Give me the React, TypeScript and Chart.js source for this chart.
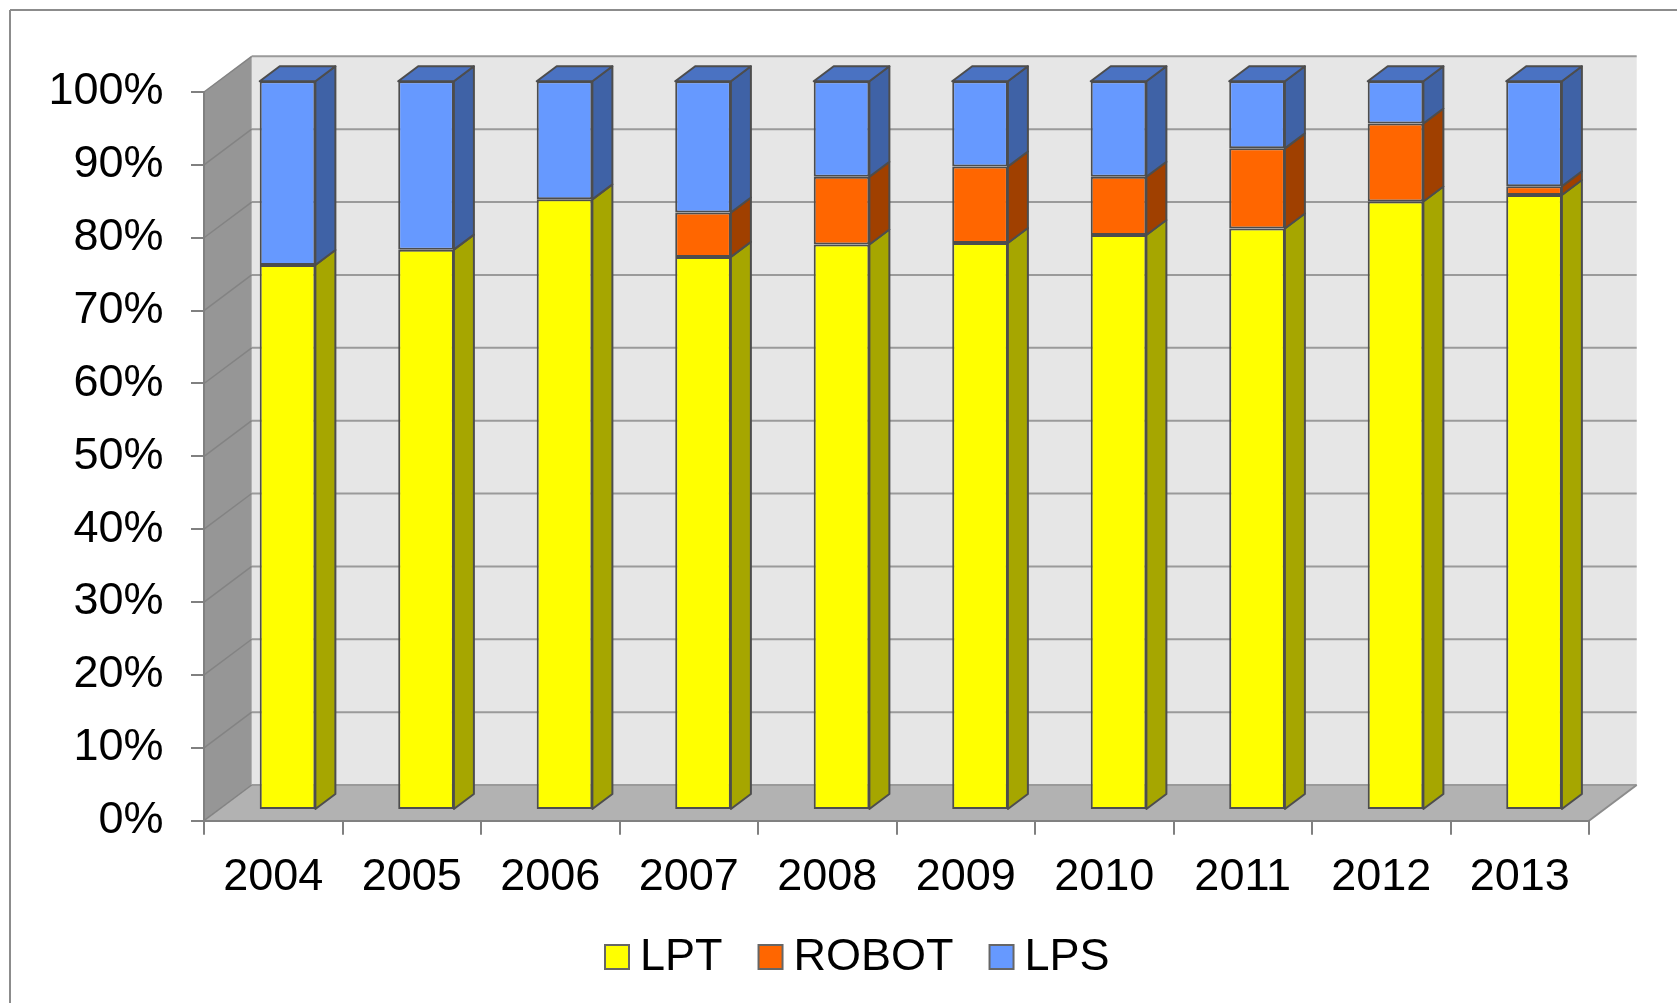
import React, { useEffect, useRef } from 'react';
import { Chart, registerables } from 'chart.js';

Chart.register(...registerables);

// ---------- data ----------
const categories = ['2004', '2005', '2006', '2007', '2008', '2009', '2010', '2011', '2012', '2013'];
const seriesNames = ['LPT', 'ROBOT', 'LPS'];
const lptValues = [74.8, 76.9, 83.8, 75.9, 77.6, 77.8, 78.9, 79.8, 83.5, 84.4];
const robotValues = [0, 0, 0, 6.1, 9.3, 10.5, 8.0, 11.0, 10.7, 1.2];
const lpsValues = [25.2, 23.1, 16.2, 18.0, 13.1, 11.7, 13.1, 9.2, 5.8, 14.4];
const yMin = 0;
const yMax = 100;
const yStep = 10;

// ---------- styles ----------
const FONT = '"Liberation Sans", Arial, Helvetica, sans-serif';
const FONT_SIZE = 45;
const frontColors = ['#FFFF00', '#FF6600', '#6699FF'];
const sideColors = ['#A6A600', '#A04000', '#3F62A6'];
const topColors = ['#CCCC00', '#CC5200', '#4A72C2'];
const EDGE = '#4D4D4D';

const BAR_OFFSET = { dx: 14.3, dy: -10.7 }; // front plane -> bar front face
const BAR_DEPTH = { dx: 20, dy: -15 };
const WALL_DEPTH = { dx: 47.7, dy: -35.7 };

function poly(ctx: CanvasRenderingContext2D, pts: number[][], fill: string, stroke?: string, lw = 2) {
  ctx.beginPath();
  ctx.moveTo(pts[0][0], pts[0][1]);
  for (let i = 1; i < pts.length; i++) ctx.lineTo(pts[i][0], pts[i][1]);
  ctx.closePath();
  ctx.fillStyle = fill;
  ctx.fill();
  if (stroke) {
    ctx.strokeStyle = stroke;
    ctx.lineWidth = lw;
    ctx.lineJoin = 'round';
    ctx.stroke();
  }
}

function line(ctx: CanvasRenderingContext2D, x1: number, y1: number, x2: number, y2: number, color: string, lw: number) {
  ctx.beginPath();
  ctx.moveTo(x1, y1);
  ctx.lineTo(x2, y2);
  ctx.strokeStyle = color;
  ctx.lineWidth = lw;
  ctx.stroke();
}

const wallsPlugin = {
  id: 'walls3d',
  beforeDraw(chart: any) {
    const ctx: CanvasRenderingContext2D = chart.ctx;
    const a = chart.chartArea;
    const y = chart.scales.y;
    const L = a.left, R = a.right;
    const T = y.getPixelForValue(yMax), B = y.getPixelForValue(yMin);
    const { dx, dy } = WALL_DEPTH;
    ctx.save();
    // outer frame
    line(ctx, 10, 10, 10, chart.height + 5, '#8C8C8C', 2);
    line(ctx, 10, 10, chart.width + 5, 10, '#8C8C8C', 2);
    // back wall
    ctx.fillStyle = '#E6E6E6';
    ctx.fillRect(L + dx, T + dy, R - L, B - T);
    // side wall
    poly(ctx, [[L, T], [L + dx, T + dy], [L + dx, B + dy], [L, B]], '#969696');
    // floor
    poly(ctx, [[L, B], [L + dx, B + dy], [R + dx, B + dy], [R, B]], '#B2B2B2');
    // gridlines
    for (const t of y.ticks) {
      const py = y.getPixelForValue(t.value);
      line(ctx, L + dx, py + dy, R + dx, py + dy, '#9A9A9A', 2);
      line(ctx, L, py, L + dx, py + dy, '#838383', 1.5);
    }
    // floor right edge
    line(ctx, R, B, R + dx, B + dy, '#8C8C8C', 2);
    ctx.restore();
  },
  beforeDatasetsDraw(chart: any) {
    const ctx: CanvasRenderingContext2D = chart.ctx;
    const n = chart.data.labels.length;
    const nd = chart.data.datasets.length;
    ctx.save();
    for (let j = 0; j < n; j++) {
      let topDs = -1;
      for (let d = 0; d < nd; d++) {
        const meta = chart.getDatasetMeta(d);
        const el = meta.data[j];
        if (!el) continue;
        const p = el.getProps(['x', 'y', 'base', 'width'], true);
        const h = Math.abs(p.base - p.y);
        if (h < 0.5) continue;
        topDs = d;
        const right = p.x + p.width / 2 + BAR_OFFSET.dx;
        const top = Math.min(p.y, p.base) + BAR_OFFSET.dy;
        const bottom = Math.max(p.y, p.base) + BAR_OFFSET.dy;
        poly(ctx, [
          [right, top],
          [right + BAR_DEPTH.dx, top + BAR_DEPTH.dy],
          [right + BAR_DEPTH.dx, bottom + BAR_DEPTH.dy],
          [right, bottom],
        ], sideColors[d], EDGE, 2);
      }
      if (topDs >= 0) {
        const el = chart.getDatasetMeta(topDs).data[j];
        const p = el.getProps(['x', 'y', 'base', 'width'], true);
        const left = p.x - p.width / 2 + BAR_OFFSET.dx;
        const right = p.x + p.width / 2 + BAR_OFFSET.dx;
        const top = Math.min(p.y, p.base) + BAR_OFFSET.dy;
        poly(ctx, [
          [left, top],
          [left + BAR_DEPTH.dx, top + BAR_DEPTH.dy],
          [right + BAR_DEPTH.dx, top + BAR_DEPTH.dy],
          [right, top],
        ], topColors[topDs], EDGE, 2);
      }
    }
    ctx.restore();
    ctx.save();
    ctx.translate(BAR_OFFSET.dx, BAR_OFFSET.dy);
  },
  afterDatasetsDraw(chart: any) {
    chart.ctx.restore();
  },
  afterDraw(chart: any) {
    const ctx: CanvasRenderingContext2D = chart.ctx;
    ctx.save();
    ctx.font = FONT_SIZE + 'px ' + FONT;
    ctx.textBaseline = 'middle';
    ctx.textAlign = 'left';
    const cy = 957;
    let x = 605;
    chart.data.datasets.forEach((ds: any, i: number) => {
      ctx.fillStyle = frontColors[i];
      ctx.fillRect(x, cy - 12, 24, 24);
      ctx.strokeStyle = '#666666';
      ctx.lineWidth = 2;
      ctx.strokeRect(x, cy - 12, 24, 24);
      x += 24 + 11;
      ctx.fillStyle = '#000000';
      ctx.fillText(ds.label, x, cy + 1);
      x += ctx.measureText(ds.label).width + 36;
    });
    ctx.restore();
  },
};

export default function App() {
  const ref = useRef<HTMLCanvasElement | null>(null);
  useEffect(() => {
    if (!ref.current) return;
    const valueSets = [lptValues, robotValues, lpsValues];
    const chart = new Chart(ref.current, {
      type: 'bar',
      data: {
        labels: categories,
        datasets: seriesNames.map((name, i) => ({
          label: name,
          data: valueSets[i],
          backgroundColor: frontColors[i],
          borderColor: EDGE,
          borderWidth: 2,
          borderSkipped: false,
          categoryPercentage: 1,
          barPercentage: 0.402,
          clip: false as any,
        })),
      },
      options: {
        responsive: false,
        animation: false,
        layout: { padding: { top: 92, right: 88, bottom: 0, left: 0 } },
        plugins: { legend: { display: false }, tooltip: { enabled: false } },
        scales: {
          x: {
            stacked: true,
            grid: { offset: true, drawOnChartArea: false, drawTicks: true, tickLength: 14, color: '#808080', lineWidth: 2 },
            border: { display: true, color: '#808080', width: 2 },
            ticks: { font: { size: FONT_SIZE, family: FONT }, color: '#000000', padding: 16, maxRotation: 0, autoSkip: false },
            afterFit: (s: any) => { s.height = 182.3; },
          },
          y: {
            stacked: true,
            min: yMin,
            max: yMax,
            ticks: {
              stepSize: yStep,
              callback: (v: any) => v + '%',
              font: { size: FONT_SIZE, family: FONT },
              color: '#000000',
              padding: 27.5,
            },
            grid: { drawOnChartArea: false, drawTicks: true, tickLength: 13, color: '#808080', lineWidth: 2 },
            border: { display: true, color: '#808080', width: 2 },
            afterFit: (s: any) => { s.width = 204; },
          },
        },
      },
      plugins: [wallsPlugin],
    });
    return () => chart.destroy();
  }, []);
  return (
    <div style={{ position: 'fixed', left: 0, top: 0, width: 1677, height: 1003, background: '#ffffff' }}>
      <canvas ref={ref} width={1677} height={1003} style={{ display: 'block' }} />
    </div>
  );
}
